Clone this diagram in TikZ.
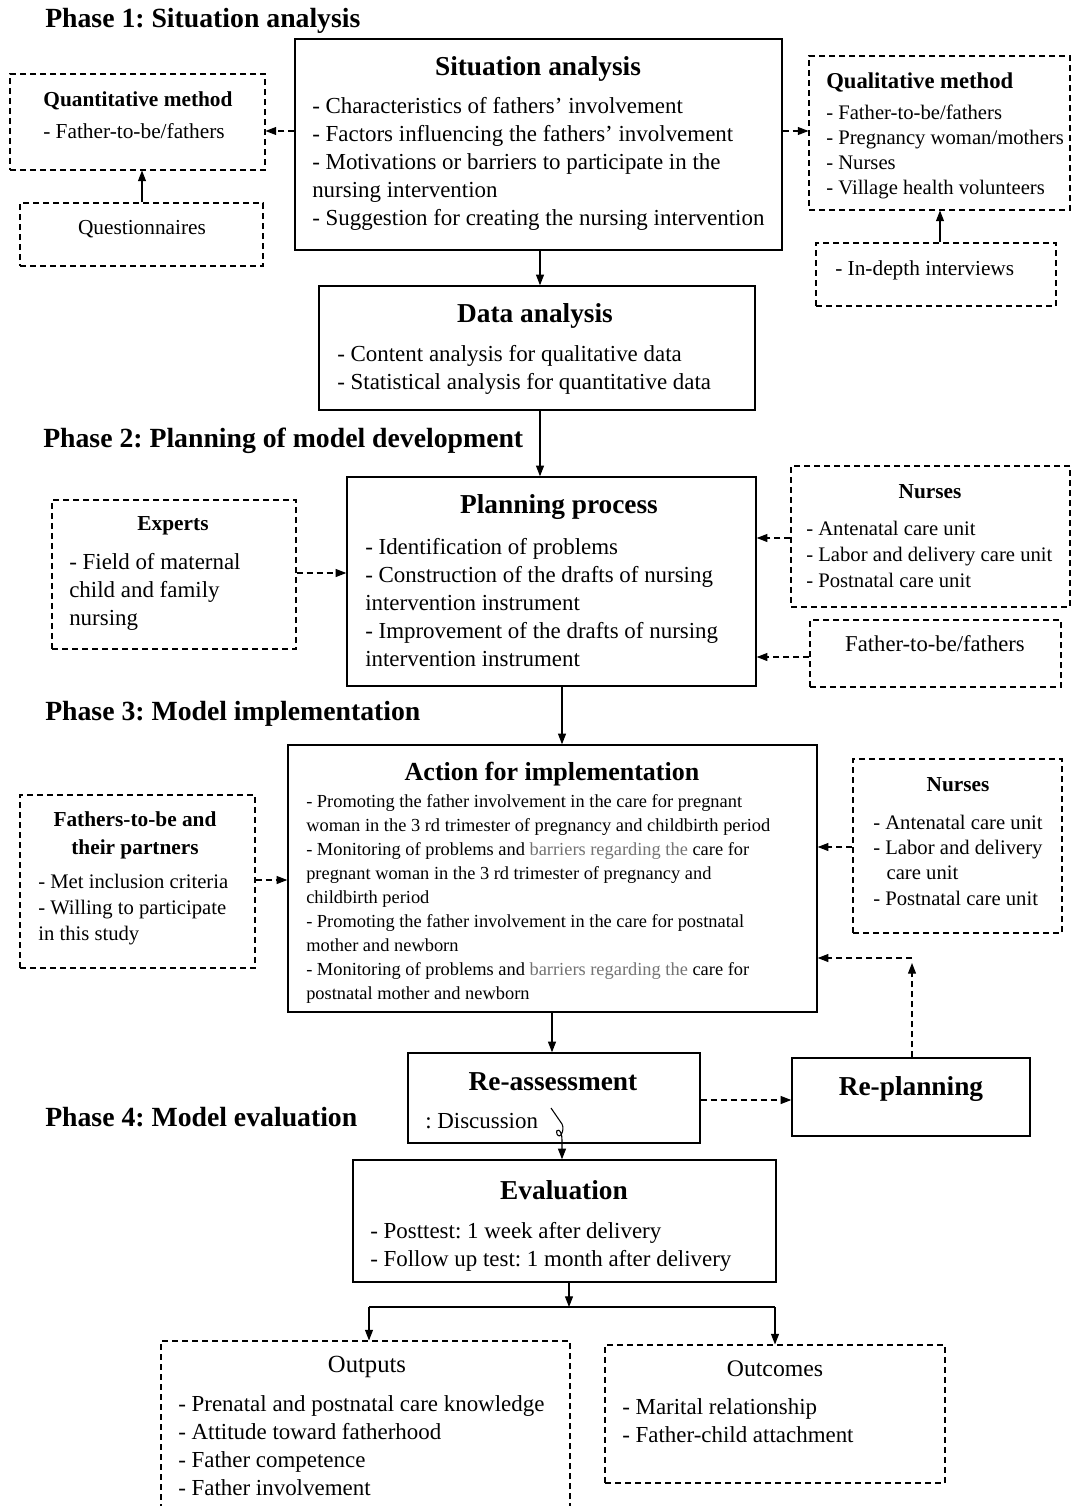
\documentclass[tikz,border=0pt]{standalone}
\usepackage{fontspec}
\setmainfont{Liberation Serif}
\usetikzlibrary{arrows.meta,fit,calc}
\frenchspacing
\newcommand\phasefont{\fontsize{20.8}{24}\selectfont\bfseries}
\newcommand\ttlfont{\fontsize{20.5}{24}\selectfont\bfseries}
\newcommand\bodyfont{\fontsize{17.2}{21}\selectfont}
\newcommand\midfont{\fontsize{16}{20}\selectfont}
\newcommand\smallfont{\fontsize{15.5}{19}\selectfont}
\newcommand\actfont{\fontsize{13.8}{18}\selectfont}
\newcommand\subttl{\fontsize{16}{21}\selectfont\bfseries}
\begin{document}
\begin{tikzpicture}[x=0.75pt,y=-0.75pt,
  sbox/.style={draw,line width=1.1pt,inner sep=0pt},
  dbox/.style={draw,line width=0.8pt,dash pattern=on 4.5pt off 3pt,inner sep=0pt},
  arr/.style={line width=0.8pt,-{Triangle[length=8pt,width=6pt]}},
  darr/.style={arr,dash pattern=on 4.5pt off 3pt},
  txt/.style={inner sep=0pt,align=left,anchor=north west},
  ctr/.style={inner sep=0pt,align=center},
  phase/.style={inner sep=0pt,anchor=west,font=\phasefont}]
\useasboundingbox[fill=white] (0,0) rectangle (1072,1506);

% ---------- Phase 1
\node[phase] (ph1) at (45,21) {Phase 1: Situation analysis};

\node[sbox,fit={(295,39)(782,250)}] (sa) {};
\node[ctr,font=\ttlfont] (saT) at (538,69) {Situation analysis};
\node[txt,font=\bodyfont] (saB) at (312,97) {- Characteristics of fathers’ involvement\\- Factors influencing the fathers’ involvement\\- Motivations or barriers to participate in the\\nursing intervention\\- Suggestion for creating the nursing intervention};

\node[dbox,fit={(10,74)(265,170)}] (qn) {};
\node[ctr,font=\subttl] (qnT) at (138,101) {Quantitative method};
\node[txt,font=\midfont] (qnB) at (43,123) {- Father-to-be/fathers};

\node[dbox,fit={(20,203)(263,266)}] (qs) {};
\node[ctr,font=\midfont] (qsT) at (142,229) {Questionnaires};

\node[dbox,fit={(809,56)(1070,210)}] (ql) {};
\node[inner sep=0pt,anchor=west,font=\fontsize{17}{20}\selectfont\bfseries] (qlT) at (826,82) {Qualitative method};
\node[txt,font=\fontsize{15.5}{18.75}\selectfont] (qlB) at (826,104.5) {- Father-to-be/fathers\\- Pregnancy woman/mothers\\- Nurses\\- Village health volunteers};

\node[dbox,fit={(816,243)(1056,306)}] (id) {};
\node[inner sep=0pt,anchor=west,font=\midfont] (idT) at (835,270) {- In-depth interviews};

\node[sbox,fit={(319,286)(755,410)}] (da) {};
\node[ctr,font=\ttlfont] (daT) at (535,316) {Data analysis};
\node[txt,font=\bodyfont] (daB) at (337,345) {- Content analysis for qualitative data\\- Statistical analysis for quantitative data};

% ---------- Phase 2
\node[phase] (ph2) at (43,441) {Phase 2: Planning of model development};

\node[sbox,fit={(347,477)(756,686)}] (pp) {};
\node[ctr,font=\ttlfont] (ppT) at (559,507) {Planning process};
\node[txt,font=\bodyfont] (ppB) at (365,538) {- Identification of problems\\- Construction of the drafts of nursing\\intervention instrument\\- Improvement of the drafts of nursing\\intervention instrument};

\node[dbox,fit={(52,500)(296,649)}] (ex) {};
\node[ctr,font=\subttl] (exT) at (173,526) {Experts};
\node[txt,font=\bodyfont] (exB) at (69,553) {- Field of maternal\\child and family\\nursing};

\node[dbox,fit={(791,466)(1070,607)}] (nu1) {};
\node[ctr,font=\subttl] (nu1T) at (930,492) {Nurses};
\node[txt,font=\fontsize{15.5}{19.5}\selectfont] (nu1B) at (806,520.5) {- Antenatal care unit\\- Labor and delivery care unit\\- Postnatal care unit};

\node[dbox,fit={(810,620)(1061,687)}] (fa1) {};
\node[ctr,font=\fontsize{17}{20}\selectfont] (fa1T) at (935,644) {Father-to-be/fathers};

% ---------- Phase 3
\node[phase] (ph3) at (45,714) {Phase 3: Model implementation};

\node[sbox,fit={(288,745)(817,1012)}] (act) {};
\node[ctr,font=\fontsize{19.5}{23}\selectfont\bfseries] (actT) at (552,774) {Action for implementation};
\node[txt,font=\actfont] (actB) at (306,794.5) {- Promoting the father involvement in the care for pregnant\\woman in the 3 rd trimester of pregnancy and childbirth period\\- Monitoring of problems and {\color{black!55}barriers regarding the} care for\\pregnant woman in the 3 rd trimester of pregnancy and\\childbirth period\\- Promoting the father involvement in the care for postnatal\\mother and newborn\\- Monitoring of problems and {\color{black!55}barriers regarding the} care for\\postnatal mother and newborn};

\node[dbox,fit={(20,795)(255,968)}] (fa2) {};
\node[ctr,font=\subttl] (fa2T) at (135,835) {Fathers-to-be and\\their partners};
\node[txt,font=\fontsize{15.5}{19.5}\selectfont] (fa2B) at (38,873.5) {- Met inclusion criteria\\- Willing to participate\\in this study};

\node[dbox,fit={(853,759)(1062,933)}] (nu2) {};
\node[ctr,font=\subttl] (nu2T) at (958,785) {Nurses};
\node[txt,font=\smallfont] (nu2B) at (873,814.5) {- Antenatal care unit\\- Labor and delivery\\\hspace*{10pt}care unit\\- Postnatal care unit};

% ---------- Phase 4
\node[sbox,fit={(408,1053)(700,1143)}] (ra) {};
\node[ctr,font=\ttlfont] (raT) at (553,1082) {Re-assessment};
\node[inner sep=0pt,anchor=west,font=\bodyfont] (raB) at (425,1121) {: Discussion};

\node[sbox,fit={(792,1058)(1030,1136)}] (rp) {};
\node[ctr,font=\ttlfont] (rpT) at (911,1089) {Re-planning};

\node[phase] (ph4) at (45,1117) {Phase 4: Model evaluation};

\node[sbox,fit={(353,1160)(776,1282)}] (ev) {};
\node[ctr,font=\ttlfont] (evT) at (564,1190) {Evaluation};
\node[txt,font=\bodyfont] (evB) at (370,1222) {- Posttest: 1 week after delivery\\- Follow up test: 1 month after delivery};

\node[dbox,fit={(161,1341)(570,1530)}] (out) {};
\node[ctr,font=\fontsize{18.5}{22}\selectfont] (outT) at (367,1367) {Outputs};
\node[txt,font=\bodyfont] (outB) at (178,1395) {- Prenatal and postnatal care knowledge\\- Attitude toward fatherhood\\- Father competence\\- Father involvement};

\node[dbox,fit={(605,1345)(945,1483)}] (oc) {};
\node[ctr,font=\fontsize{17.8}{21}\selectfont] (ocT) at (775,1369) {Outcomes};
\node[txt,font=\bodyfont] (ocB) at (622,1398) {- Marital relationship\\- Father-child attachment};

% ---------- helper coordinates
\coordinate (y131) at (0,131);
\coordinate (x142) at (142,0);
\coordinate (x940) at (940,0);
\coordinate (x540) at (540,0);
\coordinate (y573) at (0,573);
\coordinate (y538) at (0,538);
\coordinate (y657) at (0,657);
\coordinate (x562) at (562,0);
\coordinate (y880) at (0,880);
\coordinate (y847) at (0,847);
\coordinate (y958) at (0,958);
\coordinate (x912) at (912,0);
\coordinate (x552) at (552,0);
\coordinate (y1100) at (0,1100);
\coordinate (x569) at (569,0);
\coordinate (rpc) at (912,958);
\coordinate (rptip) at (912,963);
\coordinate (sq1) at (551,1108);
\coordinate (sq2) at (562,1124);
\coordinate (split) at (569,1307);
\coordinate (splL) at (369,1307);
\coordinate (splR) at (775,1307);

% ---------- connectors
\draw[darr] (sa.west |- y131) -- (qn.east |- y131);
\draw[arr] (qs.north -| x142) -- (qn.south -| x142);
\draw[darr] (sa.east |- y131) -- (ql.west |- y131);
\draw[arr] (id.north -| x940) -- (ql.south -| x940);
\draw[arr] (sa.south -| x540) -- (da.north -| x540);
\draw[arr] (da.south -| x540) -- (pp.north -| x540);
\draw[darr] (ex.east |- y573) -- (pp.west |- y573);
\draw[darr] (nu1.west |- y538) -- (pp.east |- y538);
\draw[darr] (fa1.west |- y657) -- (pp.east |- y657);
\draw[arr] (pp.south -| x562) -- (act.north -| x562);
\draw[darr] (fa2.east |- y880) -- (act.west |- y880);
\draw[darr] (nu2.west |- y847) -- (act.east |- y847);
\draw[darr] (rp.north -| x912) -- (rptip);
\draw[darr] (rpc) -- (act.east |- y958);
\draw[arr] (act.south -| x552) -- (ra.north -| x552);
\draw[darr] (ra.east |- y1100) -- (rp.west |- y1100);
\draw[arr] (sq1) -- (sq2) .. controls (565,1130) and (560,1140) .. (557,1134) .. controls (555,1128) and (562,1128) .. (562,1140) -- (ev.north -| sq2);
\draw[arr] (ev.south -| x569) -- (split);
\draw[line width=0.8pt] (splL) -- (splR);
\draw[arr] (splL) -- (out.north -| splL);
\draw[arr] (splR) -- (oc.north -| splR);
\end{tikzpicture}
\end{document}
